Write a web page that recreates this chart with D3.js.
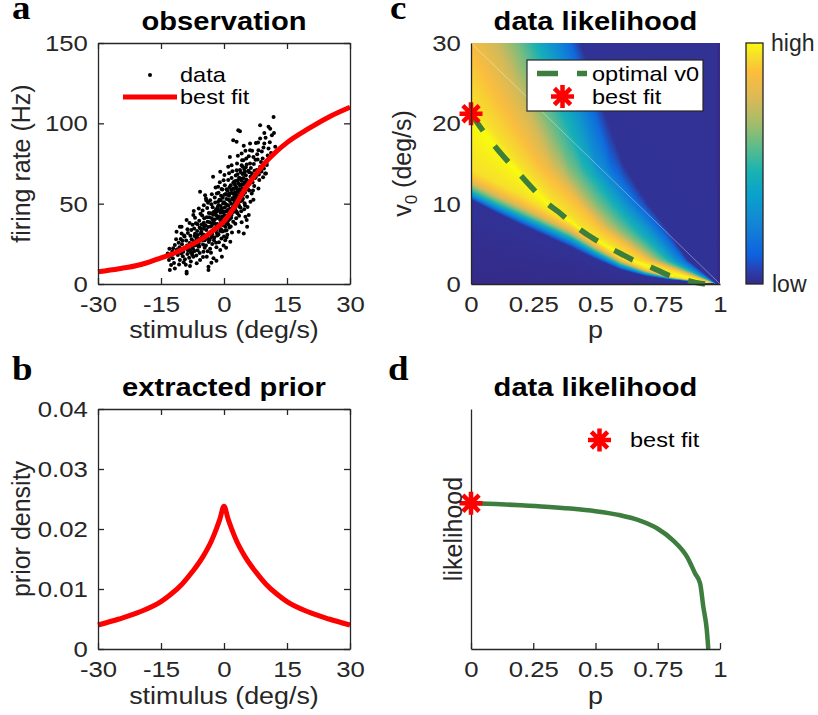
<!DOCTYPE html>
<html>
<head>
<meta charset="utf-8">
<title>Prior extraction figure</title>
<script src="https://d3js.org/d3.v7.min.js"></script>
<style>
  body { margin: 0; background: #fff; overflow: hidden; }
  text { font-family: "Liberation Sans", Arial, Helvetica, sans-serif; fill: #262626; }
  .letter { font-family: "Liberation Serif", "DejaVu Serif", serif; font-weight: bold; fill: #000; font-size: 33px; }
  .title { font-weight: bold; fill: #000; font-size: 26px; }
  .label { font-size: 24px; }
  .vlabel { font-size: 25px; }
  .cbar { font-size: 23px; }
  .legend { font-size: 21px; fill: #000; }
</style>
</head>
<body>
<script>
// ---------- data ----------
// panel a: observed (stimulus, firing rate) pairs, read off the scatter
var obsPoints = [
  [-13.4,19],[-12.9,8.7],[-13.1,14.9],[-12.6,11.8],[-12.8,17.5],[-13.0,22.0],
  [-12.1,22.2],[-11.7,24.2],[-11.7,9.7],[-12.2,16.1],[-11.9,13.0],[-11.6,19.5],[-12.3,20.3],
  [-11.3,32.5],[-10.5,35.6],[-10.5,14.9],[-11.0,18.0],[-10.8,25.6],[-11.2,21.4],[-10.7,12.2],[-11.4,27.8],[-10.6,22.9],
  [-10.1,31.5],[-10.1,35.6],[-9.8,17.2],[-10.0,24.8],[-9.7,20.1],[-10.3,28.0],[-9.6,13.5],[-9.9,26.9],[-10.2,19.0],[-9.5,30.2],
  [-8.9,39.8],[-8.9,7.7],[-8.9,6.6],[-9.2,22.5],[-8.7,18.6],[-9.0,27.1],[-8.6,31.8],[-9.3,15.4],[-8.8,24.0],[-9.1,12.0],[-8.6,21.0],[-9.4,29.5],[-8.7,34.0],
  [-7.3,42.9],[-8.2,25.5],[-7.9,19.8],[-8.0,30.0],[-7.6,23.4],[-8.3,16.4],[-7.7,27.9],[-8.1,11.2],[-7.8,33.6],[-8.4,21.7],[-7.5,36.9],[-7.9,14.0],[-8.2,38.0],[-7.6,18.2],
  [-6.5,12.9],[-7.2,26.6],[-6.9,31.2],[-7.0,20.5],[-6.7,37.8],[-7.3,16.9],[-6.8,24.1],[-7.1,34.5],[-6.6,28.8],[-7.4,22.3],[-6.9,41.2],[-7.0,29.9],[-6.6,17.8],[-7.2,45.5],
  [-5.7,14.9],[-5.7,57.4],[-6.2,30.5],[-6.0,25.0],[-5.8,35.1],[-6.3,21.0],[-5.9,39.4],[-6.1,28.2],[-5.6,43.7],[-6.4,33.0],[-5.8,19.3],[-6.0,47.0],[-6.2,26.8],[-5.5,31.6],[-6.3,37.2],[-5.9,23.4],
  [-4.5,55.3],[-4.3,53.2],[-5.2,29.5],[-4.8,34.4],[-5.0,24.6],[-4.7,41.0],[-5.3,37.1],[-4.9,20.0],[-5.1,45.8],[-4.6,27.3],[-5.4,32.5],[-4.8,49.0],[-5.0,16.8],[-4.7,36.0],[-5.2,42.6],[-4.9,30.8],[-4.6,22.5],
  [-3.7,10.8],[-3.7,8.7],[-4.2,33.6],[-3.9,38.8],[-4.0,28.9],[-3.6,44.2],[-4.3,24.0],[-3.8,50.5],[-4.1,41.5],[-3.7,31.0],[-4.4,36.5],[-3.9,20.4],[-4.0,47.3],[-3.6,26.2],[-4.2,52.0],[-3.8,35.4],[-4.1,17.0],
  [-3.3,52.2],[-2.5,16.0],[-3.2,35.8],[-2.9,41.0],[-3.0,29.3],[-2.7,47.7],[-3.4,38.5],[-2.8,24.9],[-3.1,44.0],[-2.6,33.2],[-3.3,22.0],[-2.9,55.8],[-3.0,49.6],[-2.7,37.6],[-3.4,27.5],[-2.6,43.1],[-3.1,19.5],[-2.8,31.0],
  [-2.6,66.7],[-1.4,51.2],[-2.2,40.2],[-1.9,46.5],[-2.0,34.8],[-1.7,56.3],[-2.3,29.0],[-1.8,42.5],[-2.1,50.8],[-1.6,37.4],[-2.4,45.0],[-1.9,25.6],[-2.0,60.0],[-1.7,31.7],[-2.2,53.8],[-1.5,47.9],[-2.3,38.0],[-1.8,22.8],
  [-1.4,60.5],[-0.9,21.1],[-0.5,17.0],[-0.9,69.8],[-1.2,42.0],[-0.8,48.6],[-1.0,36.2],[-0.7,55.0],[-1.3,30.8],[-0.6,40.5],[-1.1,52.5],[-0.9,33.0],[-1.4,46.2],[-0.6,59.2],[-1.2,26.0],[-0.8,44.4],[-1.0,63.3],[-0.7,37.9],[-1.3,56.8],
  [0.2,61.5],[0.3,27.3],[-0.3,45.3],[0.0,50.9],[-0.2,38.4],[0.4,56.0],[-0.4,32.6],[0.1,42.8],[-0.1,64.5],[0.3,35.6],[-0.3,53.7],[0.0,29.5],[0.2,47.6],[-0.4,58.8],[0.4,40.0],[-0.1,24.0],[0.1,67.9],
  [1.0,64.7],[1.4,79.1],[1.5,26.3],[0.8,49.2],[1.2,43.6],[0.7,55.6],[1.0,37.0],[1.3,60.2],[0.6,33.4],[1.1,52.4],[0.9,46.0],[1.4,40.5],[0.6,59.0],[1.2,69.0],[0.8,30.7],[1.3,56.3],[1.0,73.0],
  [1.8,73.9],[2.2,59.4],[2.2,89.5],[1.9,47.0],[2.1,52.8],[1.7,41.3],[2.4,63.7],[1.6,35.8],[2.3,56.0],[2.0,44.6],[1.8,66.0],[2.4,49.5],[1.7,58.5],[2.2,38.8],[2.0,70.2],[2.5,54.2],[1.9,32.0],
  [3.0,70.8],[3.0,88.5],[3.4,95.7],[3.5,32.5],[2.8,52.0],[3.2,58.8],[2.7,46.4],[3.3,64.5],[2.9,41.0],[3.1,75.0],[2.6,61.7],[3.4,50.6],[3.0,55.4],[2.8,67.5],[3.2,44.0],[3.3,79.8],[2.7,37.5],
  [3.8,95.0],[4.2,81.2],[4.2,73.9],[4.7,31.5],[3.9,55.8],[4.1,62.0],[3.6,48.3],[4.4,68.4],[3.7,58.9],[4.0,51.6],[4.3,77.0],[3.6,42.5],[4.4,59.5],[3.9,65.6],[4.1,45.3],[4.5,53.0],[3.8,71.0],[4.2,38.5],
  [4.6,77.0],[5.3,78.1],[5.4,39.8],[5.5,35.6],[5.1,41.8],[5.5,54.3],[4.8,62.4],[5.0,57.0],[4.7,68.8],[5.2,72.6],[4.9,50.2],[5.3,65.0],[4.6,55.5],[5.1,83.0],[4.8,46.5],[5.4,60.2],[5.0,70.0],[4.7,86.0],
  [5.9,42.9],[6.2,87.4],[6.2,83.3],[6.2,75.0],[6.3,51.2],[6.6,56.3],[5.8,64.0],[6.0,69.5],[5.7,59.0],[6.4,72.2],[5.9,79.5],[6.1,62.2],[5.6,48.0],[6.3,66.8],
  [7.0,79.1],[7.6,87.8],[7.3,70.5],[6.8,63.4],[7.1,74.7],[6.9,58.2],[7.4,66.0],[6.7,83.0],[7.2,61.0],[7.5,77.3],[6.6,69.0],[7.0,52.5],
  [7.6,66.7],[8.2,83.3],[8.6,90.6],[8.2,59.4],[8.6,73.0],[8.6,98.8],[7.8,71.0],[8.0,77.5],[8.4,64.8],[7.9,80.8],[8.3,68.2],[8.1,88.0],
  [9.2,78.1],[9.5,71.9],[9.6,94.0],[9.6,87.4],[8.8,76.0],[9.0,82.5],[9.3,66.4],[8.9,70.0],[9.4,85.0],
  [10.6,97.8],[10.6,84.3],[10.1,75.0],[10.0,68.8],[10.2,74.0],[9.8,68.8],[10.4,80.0],[9.9,91.0],
  [11.0,96.7],[11.4,92.6],[11.8,104.0],[11.9,94.0],[12.2,85.4],[11.2,81.5],[10.9,88.3],
  [-1.8,14.5],[0.5,22.5],[-3.0,13.2],
  [-2.9,36.2],[-2.6,39.6],[-2.3,33.7],[-2.1,43.5],[-1.9,37.1],[-1.7,44.9],[-1.6,30.2],[-1.5,41.1],[-1.3,49.0],[-1.2,35.3],
  [-1.1,45.7],[-0.9,39.9],[-0.8,52.1],[-0.7,34.1],[-0.5,47.2],[-0.4,42.0],[-0.3,36.7],[-0.2,50.3],[-0.1,44.6],[0.0,39.2],
  [0.1,55.5],[0.2,33.1],[0.3,49.9],[0.4,45.1],[0.5,37.8],[0.6,52.9],[0.7,42.4],[0.8,58.1],[0.9,39.0],[1.0,48.7],
  [1.1,44.2],[1.2,55.0],[1.3,35.2],[1.4,51.6],[1.5,46.9],[1.6,61.4],[1.7,50.0],[1.8,42.9],[1.9,56.7],[2.0,53.3],
  [2.1,47.8],[2.2,63.0],[2.3,44.9],[2.4,59.1],[2.5,51.2],[2.6,56.9],[2.7,64.1],[2.8,48.8],[2.9,60.3],[3.0,45.0],
  [3.1,53.0],[3.2,68.3],[3.3,57.2],[3.4,62.7],[3.5,49.4],[3.6,66.2],[3.7,54.4],[3.8,61.1],[3.9,47.6],[4.0,69.6],
  [4.1,57.7],[4.2,64.2],[4.3,52.0],[4.4,73.1],[4.5,61.8],[4.6,66.0],[4.7,57.9],[4.8,71.5],[4.9,63.3],[5.0,49.0],
  [5.2,67.7],[5.4,74.4],[5.6,63.0],[5.8,70.5],[6.0,58.2],[-3.5,41.5],[-3.8,28.0],[-4.4,30.0],[-4.8,38.2],[-5.3,27.0],
  [-5.6,34.5],[-6.1,23.5],[-6.5,27.2],[-7.0,25.5],[-7.5,19.8],[-8.0,21.0],[-2.4,27.2],[-1.8,33.9],[-0.6,28.3],[0.6,29.0]
];
// panel a: best-fit tuning curve
var fitStim = [-30,-25,-20,-17.5,-15,-12.5,-10,-7.5,-5,-2.5,0,2.5,5,7.5,10,12.5,15,20,25,30];
var fitRate = [7.6,9.5,12.0,14.0,16.3,18.5,21.5,24.8,28.5,33.5,39,48,59,68,76,82.5,88,96.5,104,110];

// panel b: extracted prior
var priorStim = [-30,-25,-20,-15,-12.5,-10,-7.5,-5,-3,-2,-1,0,1,2,3,5,7.5,10,12.5,15,20,25,30];
var priorDensity = [0.0040,0.0050,0.0062,0.0079,0.0092,0.0108,0.0129,0.0154,0.0180,0.0197,0.0216,0.0238,
                    0.0216,0.0197,0.0180,0.0154,0.0129,0.0108,0.0092,0.0079,0.0062,0.0050,0.0040];

// panel c: likelihood surface as level contours, [p, v0] points
var levelValues = [0.02, 0.15, 0.3, 0.45, 0.6, 0.75, 0.87, 0.95];
var levelLower = [
  [[0,10.5],[0.1,8.9],[0.2,7.4],[0.3,6.0],[0.4,4.6],[0.5,3.1],[0.6,1.8],[0.7,1.0],[0.8,0.55],[0.9,0.25],[1.0,0]],
  [[0,10.8],[0.1,9.25],[0.2,7.8],[0.3,6.4],[0.4,5.0],[0.5,3.4],[0.6,2.0],[0.7,1.12],[0.8,0.6],[0.9,0.28],[0.99,0]],
  [[0,11.1],[0.1,9.6],[0.2,8.2],[0.3,6.8],[0.4,5.4],[0.5,3.7],[0.6,2.2],[0.7,1.25],[0.8,0.65],[0.9,0.3],[0.98,0]],
  [[0,11.5],[0.1,10.0],[0.2,8.6],[0.3,7.2],[0.4,5.8],[0.5,4.0],[0.6,2.4],[0.7,1.35],[0.8,0.7],[0.9,0.33],[0.975,0]],
  [[0,12.0],[0.1,10.45],[0.2,9.0],[0.3,7.55],[0.4,6.1],[0.5,4.25],[0.6,2.6],[0.7,1.5],[0.8,0.75],[0.9,0.35],[0.97,0]],
  [[0,12.5],[0.1,10.95],[0.2,9.5],[0.3,8.0],[0.4,6.5],[0.5,4.55],[0.6,2.8],[0.7,1.6],[0.8,0.8],[0.9,0.37],[0.965,0]],
  [[0,13.2],[0.1,11.6],[0.2,10.1],[0.3,8.5],[0.4,6.9],[0.5,4.85],[0.6,3.0],[0.7,1.75],[0.8,0.85],[0.9,0.4],[0.96,0]],
  [[0,14.3],[0.1,12.65],[0.2,11.1],[0.3,9.3],[0.4,7.5],[0.5,5.3],[0.6,3.3],[0.7,1.95],[0.8,0.95],[0.9,0.45],[0.95,0]]
];
var levelUpper = [
  [[0.95,1],[0.87,3],[0.785,7],[0.71,10],[0.61,15],[0.53,22],[0.44,30]],
  [[0.94,1],[0.855,3],[0.755,7],[0.67,10],[0.56,15],[0.49,22],[0.40,30]],
  [[0.93,1],[0.82,3],[0.71,7],[0.62,10],[0.50,15],[0.43,22],[0.33,30]],
  [[0.92,1],[0.79,3],[0.655,7],[0.57,10],[0.45,15],[0.36,22],[0.26,30]],
  [[0.91,1],[0.76,3],[0.60,7],[0.51,10],[0.39,15],[0.29,22],[0.19,30]],
  [[0.90,1],[0.73,3],[0.55,7],[0.46,10],[0.33,15],[0.22,22],[0.10,30]],
  [[0.89,1],[0.71,3],[0.52,7],[0.43,10],[0.27,15],[0.13,22],[0,29]],
  [[0.87,1],[0.66,3],[0.45,7],[0.34,10],[0.19,15],[0,22.5]]
];
// panel c: optimal v0 for each p
var optP  = [0,0.05,0.1,0.15,0.2,0.25,0.3,0.35,0.4,0.45,0.5,0.55,0.6,0.65,0.7,0.75,0.8,0.85,0.9,0.94];
var optV0 = [21.2,19.0,17.0,15.2,13.5,11.8,10.2,9.0,7.7,6.5,5.5,4.6,3.8,3.0,2.4,1.7,1.0,0.6,0.2,0];
var bestFit = {p: 0, v0: 21.2};
var seam = [[0,30],[1,0]];

// panel d: likelihood along the optimal v0 curve
var likeP   = [0,0.1,0.2,0.3,0.4,0.5,0.6,0.67,0.75,0.81,0.87,0.9,0.92,0.933,0.947,0.953];
var likeVal = [0.6075,0.604,0.599,0.593,0.585,0.574,0.557,0.538,0.501,0.454,0.380,0.315,0.274,0.176,0.079,0];

// parula-like colormap, sampled off the colorbar
var parulaStops  = [0, 0.06, 0.12, 0.25, 0.37, 0.47, 0.57, 0.67, 0.77, 0.88, 0.95, 1];
var parulaColors = ["#352a87","#2841b3","#0d62e0","#1485d4","#09a2cb","#1ab3b1","#5dbc8b","#a5bd69","#dbb956","#fdbd3c","#f6e02a","#f9fb0e"];

// ---------- drawing ----------
var INK = "#262626", RED = "#ff0000", GREEN = "#3d7d3d";
var FONT = '"Liberation Sans", Arial, Helvetica, sans-serif';
var SX = 1.12;   // the reference type is set a little wide

var svg = d3.select("body").append("svg").attr("width", 818).attr("height", 715);
var defs = svg.append("defs");

function txt(x, y, str, cls, anchor, sx) {
  return svg.append("text")
    .attr("transform", "translate(" + x + "," + y + ") scale(" + (sx || SX) + ",1)")
    .attr("class", cls).attr("text-anchor", anchor || "start").text(str);
}
function vtxt(x, y, str) {
  return svg.append("text")
    .attr("transform", "translate(" + x + "," + y + ") rotate(-90)")
    .attr("class", "vlabel").attr("text-anchor", "middle").text(str);
}

function styleAxis(g) {
  g.attr("font-size", 23).attr("font-family", FONT);
  g.select(".domain").attr("stroke", INK).attr("stroke-width", 1.3);
  g.selectAll(".tick line").attr("stroke", INK).attr("stroke-width", 1.3);
  g.selectAll(".tick text").attr("fill", INK).attr("transform", "scale(" + SX + ",1)");
}

function boxAxes(x, y, xTicks, yTicks, yFmt) {
  var x0 = x.range()[0], x1 = x.range()[1], y0 = y.range()[0], y1 = y.range()[1];
  svg.append("g").attr("transform", "translate(0," + y0 + ")")
    .call(d3.axisBottom(x).tickValues(xTicks).tickFormat(function(d){ return String(d); })
      .tickSizeInner(-6).tickSizeOuter(0).tickPadding(12)).call(styleAxis);
  svg.append("g").attr("transform", "translate(" + x0 + ",0)")
    .call(d3.axisLeft(y).tickValues(yTicks).tickFormat(yFmt)
      .tickSizeInner(-6).tickSizeOuter(0).tickPadding(9)).call(styleAxis);
  svg.append("g").attr("transform", "translate(0," + y1 + ")")
    .call(d3.axisTop(x).tickValues(xTicks).tickFormat("").tickSizeInner(-6).tickSizeOuter(0)).call(styleAxis);
  svg.append("g").attr("transform", "translate(" + x1 + ",0)")
    .call(d3.axisRight(y).tickValues(yTicks).tickFormat("").tickSizeInner(-6).tickSizeOuter(0)).call(styleAxis);
}

function starPath(cx, cy, r) {
  var d = "", a;
  for (var i = 0; i < 4; i++) {
    a = i * Math.PI / 4;
    d += "M" + (cx - r * Math.cos(a)) + "," + (cy - r * Math.sin(a)) +
         "L" + (cx + r * Math.cos(a)) + "," + (cy + r * Math.sin(a));
  }
  return d;
}
function star(cx, cy) {
  svg.append("path").attr("d", starPath(cx, cy, 11.5))
    .attr("stroke", RED).attr("stroke-width", 4.5).attr("fill", "none");
}

// ===== panel a =====
var xa = d3.scaleLinear().domain([-30, 30]).range([98, 350]);
var ya = d3.scaleLinear().domain([0, 150]).range([284, 43]);

svg.append("g").selectAll("circle").data(obsPoints).enter().append("circle")
  .attr("cx", function(d){ return xa(d[0]); })
  .attr("cy", function(d){ return ya(d[1]); })
  .attr("r", 2).attr("fill", "#000");

svg.append("path")
  .datum(d3.zip(fitStim, fitRate))
  .attr("d", d3.line().x(function(d){ return xa(d[0]); }).y(function(d){ return ya(d[1]); }).curve(d3.curveMonotoneX))
  .attr("fill", "none").attr("stroke", RED).attr("stroke-width", 5);

boxAxes(xa, ya, [-30, -15, 0, 15, 30], [0, 50, 100, 150], function(d){ return String(d); });

// legend a
svg.append("circle").attr("cx", 150).attr("cy", 75).attr("r", 2).attr("fill", "#000");
txt(180, 81.5, "data", "legend");
svg.append("line").attr("x1", 123).attr("x2", 177).attr("y1", 97).attr("y2", 97)
  .attr("stroke", RED).attr("stroke-width", 5);
txt(180, 104, "best fit", "legend");

txt(224, 30, "observation", "title", "middle");
txt(224, 338, "stimulus (deg/s)", "label", "middle");
vtxt(30, 163.5, "firing rate (Hz)");
txt(12, 19, "a", "letter");

// ===== panel b =====
var xb = d3.scaleLinear().domain([-30, 30]).range([98, 350]);
var yb = d3.scaleLinear().domain([0, 0.04]).range([649, 409]);

svg.append("path")
  .datum(d3.zip(priorStim, priorDensity))
  .attr("d", d3.line().x(function(d){ return xb(d[0]); }).y(function(d){ return yb(d[1]); }).curve(d3.curveMonotoneX))
  .attr("fill", "none").attr("stroke", RED).attr("stroke-width", 5);

boxAxes(xb, yb, [-30, -15, 0, 15, 30], [0, 0.01, 0.02, 0.03, 0.04],
  function(d){ return d === 0 ? "0" : d.toFixed(2); });

txt(224, 395.5, "extracted prior", "title", "middle");
txt(224, 704, "stimulus (deg/s)", "label", "middle");
vtxt(30, 529, "prior density");
txt(12, 380, "b", "letter");

// ===== panel c =====
var xc = d3.scaleLinear().domain([0, 1]).range([471, 720]);
var yc = d3.scaleLinear().domain([0, 30]).range([284, 43]);
var parula = d3.scaleLinear().domain(parulaStops).range(parulaColors).interpolate(d3.interpolateRgb);

defs.append("clipPath").attr("id", "clipC").append("rect")
  .attr("x", xc(0)).attr("y", yc(30)).attr("width", xc(1) - xc(0)).attr("height", yc(0) - yc(30));

// contour lines as scales: lower edges v0(p), upper edges v0(p)
var lowerScales = levelLower.map(function(pts){
  return d3.scaleLinear().domain(pts.map(function(d){ return d[0]; })).range(pts.map(function(d){ return d[1]; }));
});
var upperScales = levelUpper.map(function(pts){
  return d3.scaleLinear().domain(pts.map(function(d){ return d[0]; })).range(pts.map(function(d){ return d[1]; }));
});
var optScale = d3.scaleLinear().domain(optP).range(optV0).clamp(true);

var GV0 = -1, GV1 = 200;   // gradient vector, in v0 units
function columnStops(p) {
  var lows = [], ups = [];
  levelValues.forEach(function(L, i) {
    var end = levelLower[i][levelLower[i].length - 1][0];
    if (p > end) return;
    var lo = lowerScales[i](p), hi = upperScales[i](p);
    if (hi <= lo) return;
    lows.push([lo, L]);
    ups.unshift([hi, L]);
  });
  var stops = [[GV0, 0]].concat(lows);
  if (lows.length) {
    var a = lows[lows.length - 1][0], b = ups[0][0], r = optScale(p);
    var top = Math.min(1, lows[lows.length - 1][1] + 0.05);
    stops.push([(r > a && r < b) ? r : (a + b) / 2, top]);
  }
  return stops.concat(ups).concat([[GV1, 0]]);
}

var nCols = Math.round(xc(1) - xc(0));
var cols = d3.range(nCols).map(function(j){ return (j + 0.5) / nCols; });
var grads = defs.selectAll("linearGradient.col").data(cols).enter().append("linearGradient")
  .attr("class", "col").attr("id", function(p, j){ return "col" + j; })
  .attr("gradientUnits", "userSpaceOnUse")
  .attr("x1", 0).attr("x2", 0).attr("y1", yc(GV0)).attr("y2", yc(GV1));
grads.selectAll("stop").data(function(p){ return columnStops(p); }).enter().append("stop")
  .attr("offset", function(s){ return (s[0] - GV0) / (GV1 - GV0); })
  .attr("stop-color", function(s){ return parula(s[1]); });

var heat = svg.append("g").attr("clip-path", "url(#clipC)");
heat.selectAll("rect").data(cols).enter().append("rect")
  .attr("x", function(p){ return xc(p) - 0.5; })
  .attr("width", 1.6)
  .attr("y", yc(30)).attr("height", yc(0) - yc(30))
  .attr("fill", function(p, j){ return "url(#col" + j + ")"; });

// faint seam of the surface
svg.append("path").datum(seam).attr("clip-path", "url(#clipC)")
  .attr("d", d3.line().x(function(d){ return xc(d[0]); }).y(function(d){ return yc(d[1]); }))
  .attr("stroke", "#fff").attr("stroke-opacity", 0.45).attr("stroke-width", 0.8);

// optimal v0
svg.append("path")
  .datum(d3.zip(optP, optV0))
  .attr("d", d3.line().x(function(d){ return xc(d[0]); }).y(function(d){ return yc(d[1]); }).curve(d3.curveMonotoneX))
  .attr("fill", "none").attr("stroke", GREEN).attr("stroke-width", 5.5).attr("stroke-dasharray", "21,19");

star(xc(bestFit.p), yc(bestFit.v0));

svg.append("g").attr("transform", "translate(0,284)")
  .call(d3.axisBottom(xc).tickValues([0, 0.25, 0.5, 0.75, 1]).tickFormat(function(d){ return String(d); })
    .tickSizeInner(0).tickSizeOuter(0).tickPadding(12)).call(styleAxis);
svg.append("g").attr("transform", "translate(471,0)")
  .call(d3.axisLeft(yc).tickValues([0, 10, 20, 30]).tickFormat(function(d){ return String(d); })
    .tickSizeInner(0).tickSizeOuter(0).tickPadding(9)).call(styleAxis);

// legend c
svg.append("rect").attr("x", 527).attr("y", 60).attr("width", 176).attr("height", 51)
  .attr("fill", "#fff").attr("stroke", INK).attr("stroke-width", 1.2);
svg.append("line").attr("x1", 537).attr("x2", 587).attr("y1", 73.5).attr("y2", 73.5)
  .attr("stroke", GREEN).attr("stroke-width", 5.5).attr("stroke-dasharray", "21,19");
txt(592, 80.5, "optimal v0", "legend");
star(562.5, 96.5);
txt(592, 104, "best fit", "legend");

// colorbar
var grad = defs.append("linearGradient").attr("id", "parulaGrad")
  .attr("x1", 0).attr("x2", 0).attr("y1", 1).attr("y2", 0);
grad.selectAll("stop").data(parulaStops).enter().append("stop")
  .attr("offset", function(d){ return d; })
  .attr("stop-color", function(d, i){ return parulaColors[i]; });
svg.append("rect").attr("x", 746).attr("y", 43).attr("width", 17).attr("height", 241)
  .attr("fill", "url(#parulaGrad)").attr("stroke", INK).attr("stroke-width", 1.3);
txt(771, 51, "high", "cbar", "start", 1);
txt(772, 292, "low", "cbar", "start", 1);

txt(595.5, 30, "data likelihood", "title", "middle");
txt(595.5, 338, "p", "label", "middle");
var vl = svg.append("text")
  .attr("transform", "translate(411,163.5) rotate(-90)")
  .attr("class", "vlabel").attr("text-anchor", "middle");
vl.append("tspan").text("v");
vl.append("tspan").attr("dy", 6).style("font-size", "17px").text("0");
vl.append("tspan").attr("dy", -6).text(" (deg/s)");
txt(390, 19, "c", "letter");

// ===== panel d =====
var xd = d3.scaleLinear().domain([0, 1]).range([471, 720]);
var yd = d3.scaleLinear().domain([0, 1]).range([649, 409]);

svg.append("path")
  .datum(d3.zip(likeP, likeVal))
  .attr("d", d3.line().x(function(d){ return xd(d[0]); }).y(function(d){ return yd(d[1]); }).curve(d3.curveMonotoneX))
  .attr("fill", "none").attr("stroke", GREEN).attr("stroke-width", 4.5);

svg.append("g").attr("transform", "translate(0,649)")
  .call(d3.axisBottom(xd).tickValues([0, 0.25, 0.5, 0.75, 1]).tickFormat(function(d){ return String(d); })
    .tickSizeInner(-6).tickSizeOuter(0).tickPadding(12)).call(styleAxis);
svg.append("g").attr("transform", "translate(471,0)")
  .call(d3.axisLeft(yd).tickValues([]).tickSizeOuter(0)).call(styleAxis);

star(xd(likeP[0]), yd(likeVal[0]));
star(599.5, 440);
txt(630, 447, "best fit", "legend");

txt(595.5, 395.5, "data likelihood", "title", "middle");
txt(595.5, 704, "p", "label", "middle");
vtxt(462, 529, "likelihood");
txt(388, 380, "d", "letter");
</script>
</body>
</html>
